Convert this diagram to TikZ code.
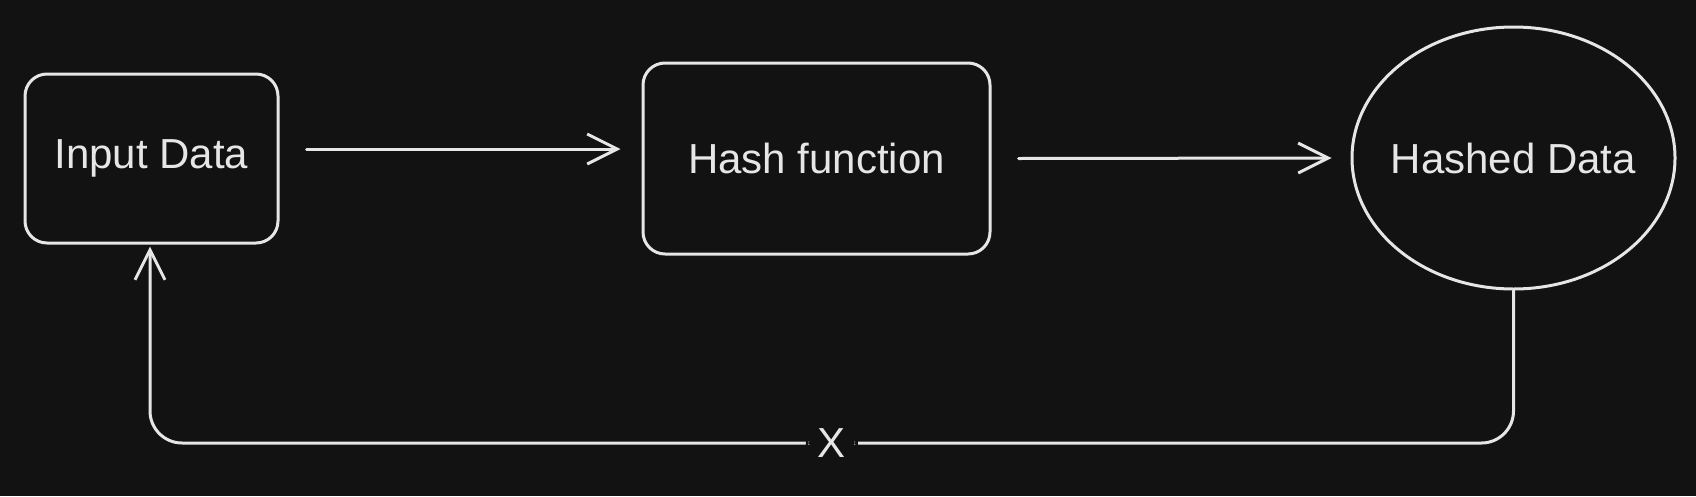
\documentclass[tikz,border=0pt]{standalone}
\usepackage{fontspec}
\setmainfont{Liberation Sans}
\usetikzlibrary{arrows.meta,shapes.geometric}
\definecolor{bgc}{HTML}{121212}
\definecolor{inkc}{HTML}{E6E6E6}
\begin{document}
\begin{tikzpicture}[x=1pt,y=-1pt,
  every node/.style={font=\fontsize{42}{48}\selectfont, text=inkc},
  boxnode/.style={draw=inkc, line width=3pt, rounded corners=22pt, inner sep=0pt},
  ellnode/.style={ellipse, draw=inkc, line width=3pt, inner sep=0pt},
  arr/.style={draw=inkc, line width=3pt, line cap=round, line join=round,
    -{Straight Barb[length=30pt,width=30pt,line width=3pt]}},
  lbl/.style={fill=bgc, inner xsep=12pt, inner ysep=4pt}]
\fill[bgc] (0,0) rectangle (1696,496);
\useasboundingbox (0,0) rectangle (1696,496);
\node[boxnode, minimum width=253pt, minimum height=169pt] (in) at (151.5,158.5) {Input Data};
\node[boxnode, minimum width=347pt, minimum height=191pt] (hash) at (816.5,158.5) {Hash function};
\node[ellnode, minimum width=323pt, minimum height=262pt, label={center:Hashed Data}] (ell) at (1513.5,158) {};
\draw[arr] ([xshift=27pt,yshift=9.5pt]in.east) -- ([xshift=-21pt,yshift=9.5pt]hash.west);
\draw[arr] ([xshift=27pt]hash.east) -- ([xshift=-19pt]ell.west);
\draw[arr, rounded corners=32pt] (ell.south) -- (ell.south |- 0,443) -- node[lbl] {X} ([xshift=-1.5pt]in.south |- 0,443) -- ([xshift=-1.5pt,yshift=-2pt]in.south);
\end{tikzpicture}
\end{document}
